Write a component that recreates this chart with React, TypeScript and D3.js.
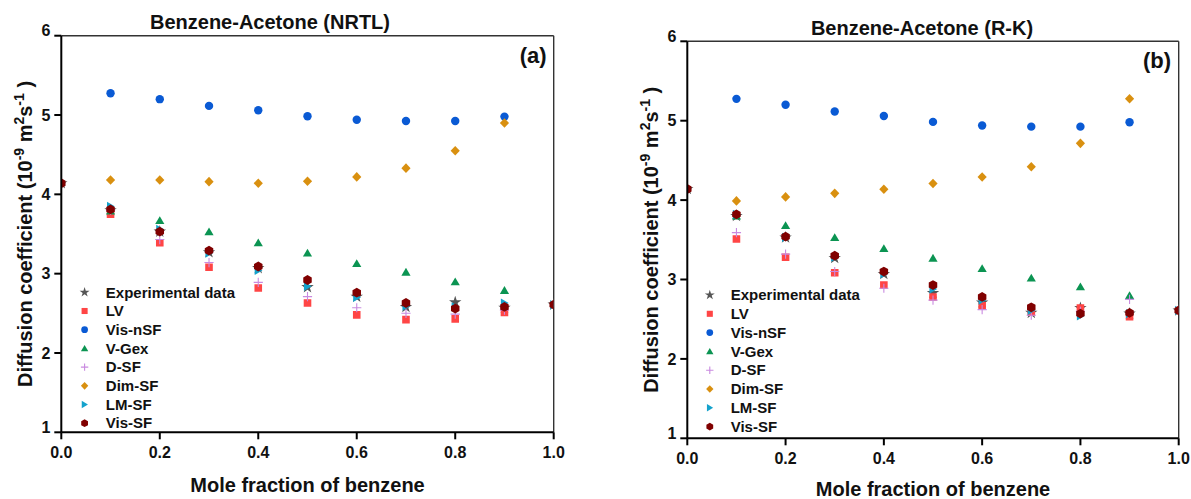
import React from "react";
import * as d3 from "d3";

const xValues = [0, 0.1, 0.2, 0.3, 0.4, 0.5, 0.6, 0.7, 0.8, 0.9, 1.0];
const xTicks = [0, 0.2, 0.4, 0.6, 0.8, 1.0];
const yTicks = [1, 2, 3, 4, 5, 6];

const experimental = [4.14, 3.8, 3.53, 3.27, 3.07, 2.83, 2.71, 2.58, 2.64, 2.57, 2.61];
const visNsf = [null, 5.275, 5.2, 5.115, 5.06, 4.985, 4.94, 4.925, 4.925, 4.98, null];

const lvA = [null, 3.75, 3.39, 3.08, 2.82, 2.63, 2.48, 2.42, 2.43, 2.51, null];
const vGexA = [null, 3.79, 3.67, 3.53, 3.39, 3.26, 3.13, 3.02, 2.9, 2.79, null];
const dsfA = [null, 3.8, 3.43, 3.14, 2.89, 2.71, 2.57, 2.5, 2.49, 2.54, null];
const dimA = [null, 4.18, 4.18, 4.16, 4.14, 4.165, 4.22, 4.33, 4.55, 4.9, null];
const lmA = [4.14, 3.85, 3.56, 3.26, 3.04, 2.84, 2.7, 2.59, 2.58, 2.63, 2.61];
const visA = [4.14, 3.81, 3.53, 3.29, 3.09, 2.92, 2.76, 2.63, 2.56, 2.58, 2.61];

const lvB = [null, 3.51, 3.28, 3.085, 2.93, 2.78, 2.67, 2.59, 2.64, 2.53, null];
const vGexB = [null, 3.8, 3.68, 3.53, 3.39, 3.27, 3.14, 3.02, 2.91, 2.8, null];
const dsfB = [null, 3.59, 3.32, 3.1, 2.89, 2.74, 2.62, 2.55, 2.6, 2.75, null];
const dimB = [null, 3.99, 4.04, 4.085, 4.136, 4.21, 4.29, 4.42, 4.715, 5.277, null];
const lmB = [4.14, 3.82, 3.53, 3.28, 3.07, 2.88, 2.74, 2.61, 2.54, 2.57, 2.61];
const visB = [4.14, 3.82, 3.54, 3.3, 3.1, 2.93, 2.78, 2.65, 2.57, 2.58, 2.61];

const seriesNames = ["Experimental data", "LV", "Vis-nSF", "V-Gex", "D-SF", "Dim-SF", "LM-SF", "Vis-SF"];
const seriesShapes = ["star", "square", "circle", "triangle", "plus", "diamond", "right", "hexagon"];
const seriesColors = ["#555555", "#ff4545", "#0a5ad4", "#0b9452", "#c98ae0", "#d99010", "#14a2cc", "#800000"];

const titles = ["Benzene-Acetone (NRTL)", "Benzene-Acetone (R-K)"];
const tags = ["(a)", "(b)"];

const panelSeries = [
  [experimental, lvA, visNsf, vGexA, dsfA, dimA, lmA, visA],
  [experimental, lvB, visNsf, vGexB, dsfB, dimB, lmB, visB],
];

const layouts = [
  { left: 61.3, right: 553.7, top: 35.7, bottom: 432.3, titleX: 270, titleY: 29, yLabX: 32, xLabY: 491.5, legX: 84.6, legTX: 105.8, legY: 292.3, legDy: 18.7, tagX: 546.7, tagY: 62.7 },
  { left: 687.3, right: 1178.7, top: 41.3, bottom: 438.3, titleX: 922, titleY: 35, yLabX: 658, xLabY: 496, legX: 709.8, legTX: 730.7, legY: 295, legDy: 18.8, tagX: 1171, tagY: 68.3 },
];

const FONT = "Arial, 'Liberation Sans', sans-serif";

function shapePath(shape: string, s: number): string {
  switch (shape) {
    case "circle":
      return d3.symbol(d3.symbolCircle, Math.PI * (4.2 * s) ** 2)() as string;
    case "square": {
      const h = 3.8 * s;
      return `M${-h},${-h}H${h}V${h}H${-h}Z`;
    }
    case "diamond": {
      const w = 4.6 * s, h = 4.8 * s;
      return `M0,${-h}L${w},0L0,${h}L${-w},0Z`;
    }
    case "triangle": {
      const w = 4.6 * s, h = 4.2 * s;
      return `M0,${-h}L${w},${h * 0.85}L${-w},${h * 0.85}Z`;
    }
    case "right": {
      const w = 4.2 * s, h = 4.6 * s;
      return `M${w},0L${-w * 0.85},${-h}L${-w * 0.85},${h}Z`;
    }
    case "hexagon": {
      const r = 4.9 * s;
      const pts = d3.range(6).map((i) => {
        const a = (Math.PI / 3) * i + Math.PI / 6;
        return [r * Math.cos(a), r * Math.sin(a)];
      });
      return "M" + pts.map((p) => p.join(",")).join("L") + "Z";
    }
    case "star":
      return d3.symbol(d3.symbolStar, 48 * s * s)() as string;
    case "plus": {
      const h = 4.6 * s;
      return `M${-h},0H${h}M0,${-h}V${h}`;
    }
  }
  return "";
}

function Marker({ shape, color, x, y, s }: { shape: string; color: string; x: number; y: number; s: number }) {
  const d = shapePath(shape, s);
  if (shape === "plus") {
    return <path d={d} transform={`translate(${x},${y})`} fill="none" stroke={color} strokeWidth={1.1} />;
  }
  return <path d={d} transform={`translate(${x},${y})`} fill={color} stroke="none" />;
}

function Panel({ idx }: { idx: number }) {
  const L = layouts[idx];
  const xScale = d3.scaleLinear().domain([0, 1]).range([L.left, L.right]);
  const yScale = d3.scaleLinear().domain([1, 6]).range([L.bottom, L.top]);
  const series = panelSeries[idx];
  const clipId = `clip-${idx}`;
  const cy = (L.top + L.bottom) / 2;
  const cx = (L.left + L.right) / 2;
  return (
    <g>
      <defs>
        <clipPath id={clipId}>
          <rect x={L.left} y={L.top} width={L.right - L.left} height={L.bottom - L.top} />
        </clipPath>
      </defs>
      {/* frame */}
      <line x1={L.left} x2={L.right} y1={L.top} y2={L.top} stroke="#333" strokeWidth={1.4} />
      <line x1={L.right} x2={L.right} y1={L.top} y2={L.bottom} stroke="#333" strokeWidth={1.4} />
      {/* markers */}
      <g clipPath={`url(#${clipId})`}>
        {series.map((vals, si) =>
          vals.map((v, i) =>
            v == null ? null : (
              <Marker key={`${si}-${i}`} shape={seriesShapes[si]} color={seriesColors[si]} x={xScale(xValues[i])} y={yScale(v)} s={1} />
            )
          )
        )}
      </g>
      {/* axes */}
      <line x1={L.left} x2={L.left} y1={L.top} y2={L.bottom} stroke="#000" strokeWidth={2} />
      <line x1={L.left} x2={L.right} y1={L.bottom} y2={L.bottom} stroke="#000" strokeWidth={2} />
      {yTicks.map((t) => (
        <g key={`yt${t}`}>
          <line x1={L.left - 7} x2={L.left} y1={yScale(t)} y2={yScale(t)} stroke="#000" strokeWidth={2} />
          <text x={L.left - 11} y={yScale(t) + (t === 6 || t === 1 ? -5 : 0)} dy="0.35em" textAnchor="end" fontFamily={FONT} fontWeight="bold" fontSize={16} fill="#111">
            {t}
          </text>
        </g>
      ))}
      {xTicks.map((t) => (
        <g key={`xt${t}`}>
          <line x1={xScale(t)} x2={xScale(t)} y1={L.bottom} y2={L.bottom + 7} stroke="#000" strokeWidth={2} />
          <text x={xScale(t)} y={L.bottom + 26} textAnchor="middle" fontFamily={FONT} fontWeight="bold" fontSize={16} fill="#111">
            {d3.format(".1f")(t)}
          </text>
        </g>
      ))}
      {/* titles */}
      <text x={L.titleX} y={L.titleY} textAnchor="middle" fontFamily={FONT} fontWeight="bold" fontSize={20} fill="#111">
        {titles[idx]}
      </text>
      <text x={L.tagX} y={L.tagY} textAnchor="end" fontFamily={FONT} fontWeight="bold" fontSize={22} fill="#111">
        {tags[idx]}
      </text>
      <text x={cx} y={L.xLabY} textAnchor="middle" fontFamily={FONT} fontWeight="bold" fontSize={20} fill="#111">
        Mole fraction of benzene
      </text>
      <text transform={`translate(${L.yLabX},${cy}) rotate(-90)`} textAnchor="middle" fontFamily={FONT} fontWeight="bold" fontSize={20} fill="#111">
        Diffusion coefficient (10
        <tspan baselineShift="super" fontSize={14}>-9</tspan>
        <tspan> m</tspan>
        <tspan baselineShift="super" fontSize={14}>2</tspan>
        <tspan>s</tspan>
        <tspan baselineShift="super" fontSize={14}>-1</tspan>
        <tspan> )</tspan>
      </text>
      {/* legend */}
      {seriesNames.map((name, si) => {
        const y = L.legY + si * L.legDy;
        return (
          <g key={name}>
            <Marker shape={seriesShapes[si]} color={seriesColors[si]} x={L.legX} y={y} s={0.8} />
            <text x={L.legTX} y={y} dy="0.35em" fontFamily={FONT} fontWeight="bold" fontSize={15} fill="#111">
              {name}
            </text>
          </g>
        );
      })}
    </g>
  );
}

export default function App() {
  return (
    <svg width={1191} height={499} style={{ position: "absolute", left: 0, top: 0, background: "#fff" }}>
      <rect width={1191} height={499} fill="#fff" />
      <Panel idx={0} />
      <Panel idx={1} />
    </svg>
  );
}
